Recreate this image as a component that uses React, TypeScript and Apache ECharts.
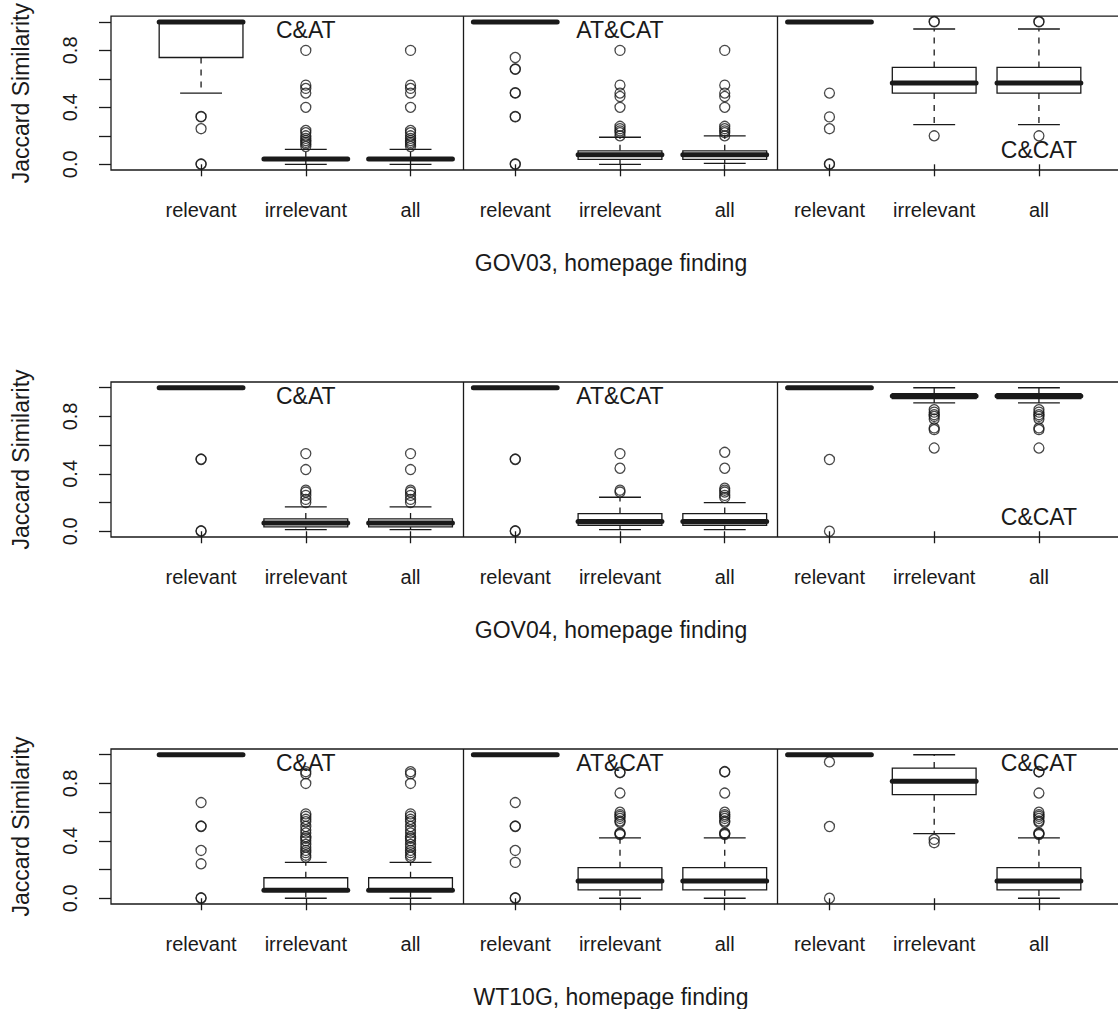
import { useEffect, useRef } from 'react';
import * as echarts from 'echarts';

const INK = '#1a1a1a';
const FONT = '"Liberation Sans", Arial, Helvetica, sans-serif';

const categories = ['relevant', 'irrelevant', 'all', 'relevant', 'irrelevant', 'all', 'relevant', 'irrelevant', 'all'];
const panelTitles = ['GOV03, homepage finding', 'GOV04, homepage finding', 'WT10G, homepage finding'];
const yAxisTitle = 'Jaccard Similarity';
const groupNames = ['C&AT', 'AT&CAT', 'C&CAT'];
const groupLabelX = [2, 5, 9];
const groupLabelYGov03 = [0.94, 0.94, 0.1];
const groupLabelYGov04 = [0.94, 0.94, 0.1];
const groupLabelYWt10g = [0.94, 0.94, 0.94];
const yTicks = [0, 0.2, 0.4, 0.6, 0.8, 1.0];
const yTickLabels = [0, 0.4, 0.8];
const separators = [3.5, 6.5];

// [lower whisker, Q1, median, Q3, upper whisker] per category
const gov03Stats = [
  [0.5, 0.75, 1, 1, 1],
  [0, 0.028, 0.037, 0.045, 0.105],
  [0, 0.028, 0.037, 0.045, 0.105],
  [1, 1, 1, 1, 1],
  [0, 0.035, 0.067, 0.095, 0.19],
  [0.007, 0.035, 0.067, 0.095, 0.2],
  [1, 1, 1, 1, 1],
  [0.278, 0.5, 0.571, 0.68, 0.95],
  [0.278, 0.5, 0.571, 0.68, 0.95],
];
const gov03Outliers = [
  [0.333, 0.336, 0.25, 0, 0.003],
  [0.8, 0.556, 0.533, 0.5, 0.4, 0.238, 0.222, 0.2, 0.182, 0.167, 0.154, 0.143, 0.125],
  [0.8, 0.556, 0.533, 0.5, 0.4, 0.238, 0.222, 0.2, 0.182, 0.167, 0.154, 0.143, 0.125],
  [0.75, 0.667, 0.67, 0.5, 0.503, 0.333, 0.336, 0, 0.003],
  [0.8, 0.556, 0.5, 0.476, 0.4, 0.267, 0.25, 0.235, 0.222, 0.2],
  [0.8, 0.556, 0.5, 0.476, 0.4, 0.267, 0.25, 0.235, 0.222, 0.2],
  [0.5, 0.333, 0.25, 0, 0.003],
  [1.0, 1.003, 0.2],
  [1.0, 1.003, 0.2],
];

const gov04Stats = [
  [1, 1, 1, 1, 1],
  [0.012, 0.031, 0.058, 0.086, 0.17],
  [0.012, 0.031, 0.058, 0.086, 0.17],
  [1, 1, 1, 1, 1],
  [0.012, 0.042, 0.068, 0.123, 0.237],
  [0.012, 0.042, 0.068, 0.123, 0.2],
  [1, 1, 1, 1, 1],
  [0.894, 0.925, 0.942, 0.958, 1.0],
  [0.894, 0.925, 0.942, 0.958, 1.0],
];
const gov04Outliers = [
  [0.5, 0.503, 0, 0.003],
  [0.541, 0.43, 0.286, 0.273, 0.25, 0.222, 0.2],
  [0.541, 0.43, 0.286, 0.273, 0.25, 0.222, 0.2],
  [0.5, 0.503, 0, 0.003],
  [0.541, 0.439, 0.286, 0.273],
  [0.55, 0.439, 0.3, 0.286, 0.273, 0.25, 0.235],
  [0.5, 0],
  [0.847, 0.83, 0.812, 0.8, 0.782, 0.72, 0.708, 0.58],
  [0.847, 0.83, 0.812, 0.8, 0.782, 0.72, 0.708, 0.58],
];

const wt10gStats = [
  [1, 1, 1, 1, 1],
  [0, 0.048, 0.056, 0.143, 0.25],
  [0, 0.048, 0.056, 0.143, 0.25],
  [1, 1, 1, 1, 1],
  [0, 0.058, 0.12, 0.213, 0.421],
  [0, 0.058, 0.12, 0.213, 0.421],
  [1, 1, 1, 1, 1],
  [0.451, 0.722, 0.815, 0.907, 1.0],
  [0, 0.058, 0.12, 0.213, 0.421],
];
const wt10gOutliers = [
  [0.667, 0.5, 0.503, 0.333, 0.24, 0, 0.003],
  [0.882, 0.867, 0.8, 0.588, 0.571, 0.55, 0.533, 0.5, 0.476, 0.455, 0.429, 0.417, 0.4, 0.375, 0.357, 0.333, 0.318, 0.3, 0.286],
  [0.882, 0.867, 0.8, 0.588, 0.571, 0.55, 0.533, 0.5, 0.476, 0.455, 0.429, 0.417, 0.4, 0.375, 0.357, 0.333, 0.318, 0.3, 0.286],
  [0.667, 0.5, 0.503, 0.333, 0.25, 0, 0.003],
  [0.875, 0.878, 0.733, 0.6, 0.583, 0.571, 0.556, 0.538, 0.529, 0.455, 0.45, 0.444],
  [0.88, 0.883, 0.733, 0.6, 0.583, 0.571, 0.556, 0.538, 0.529, 0.455, 0.45, 0.444],
  [0.95, 0.5, 0],
  [0.41, 0.387],
  [0.88, 0.883, 0.733, 0.6, 0.583, 0.571, 0.556, 0.538, 0.529, 0.455, 0.45, 0.444],
];

const panels = [
  { title: panelTitles[0], stats: gov03Stats, outliers: gov03Outliers, labelY: groupLabelYGov03 },
  { title: panelTitles[1], stats: gov04Stats, outliers: gov04Outliers, labelY: groupLabelYGov04 },
  { title: panelTitles[2], stats: wt10gStats, outliers: wt10gOutliers, labelY: groupLabelYWt10g },
];

const CHART_W = 1140;
const CHART_H = 1009;
const GRID_TOPS = [15, 382, 749];
const GRID_H = 155;
const GRID_LEFT = 111;
const GRID_W = 1018;
const X_MIN = 0.14;
const X_MAX = 9.86;
const Y_MIN = -0.04;
const Y_MAX = 1.04;
const LW = 1.3;
const TICK_FONT = 20;
const LABEL_FONT = 23;

function renderBox(_params: any, api: any) {
  const x = api.value(0);
  const lo = api.value(1);
  const q1 = api.value(2);
  const md = api.value(3);
  const q3 = api.value(4);
  const hi = api.value(5);
  const c = (xv: number, yv: number) => api.coord([xv, yv]);
  const line = (x1: number, y1: number, x2: number, y2: number, style: any) => {
    const a = c(x1, y1);
    const b = c(x2, y2);
    return { type: 'line', shape: { x1: a[0], y1: a[1], x2: b[0], y2: b[1] }, style };
  };
  const thin = { stroke: INK, lineWidth: LW, fill: null };
  const dashed = { stroke: INK, lineWidth: LW, lineDash: [6, 6], fill: null };
  const children: any[] = [];
  if (hi > q3) children.push(line(x, q3, x, hi, dashed));
  if (lo < q1) children.push(line(x, q1, x, lo, dashed));
  children.push(line(x - 0.2, hi, x + 0.2, hi, thin));
  children.push(line(x - 0.2, lo, x + 0.2, lo, thin));
  const tl = c(x - 0.4, q3);
  const br = c(x + 0.4, q1);
  children.push({
    type: 'rect',
    shape: { x: tl[0], y: tl[1], width: br[0] - tl[0], height: br[1] - tl[1] },
    style: { fill: '#fff', stroke: INK, lineWidth: LW },
  });
  children.push(line(x - 0.4, md, x + 0.4, md, { stroke: INK, lineWidth: 5, lineCap: 'round', fill: null }));
  return { type: 'group', children };
}

function renderGroupLabel(params: any, api: any) {
  const p = api.coord([api.value(0), api.value(1)]);
  return {
    type: 'text',
    x: p[0],
    y: p[1],
    style: {
      text: groupNames[params.dataIndex],
      fill: INK,
      fontSize: LABEL_FONT,
      fontFamily: FONT,
      align: 'center',
      verticalAlign: 'middle',
    },
  };
}

export default function App() {
  const ref = useRef<HTMLDivElement>(null);
  useEffect(() => {
    document.body.style.margin = '0';
    document.body.style.overflow = 'hidden';
    document.documentElement.style.overflow = 'hidden';
    const chart = echarts.init(ref.current!, null, { renderer: 'svg' });
    const tickText = { color: INK, fontFamily: FONT, fontSize: TICK_FONT };
    const nameText = { color: INK, fontFamily: FONT, fontSize: LABEL_FONT };
    const grid = GRID_TOPS.map((t) => ({
      left: GRID_LEFT,
      top: t,
      width: GRID_W,
      height: GRID_H,
      show: true,
      borderColor: INK,
      borderWidth: LW,
      backgroundColor: 'transparent',
    }));
    const catIdx = categories.map((_, i) => i + 1);
    const xAxis = panels.map((p, i) => ({
      type: 'value',
      gridIndex: i,
      min: X_MIN,
      max: X_MAX,
      axisLine: { show: false },
      splitLine: { show: false },
      axisTick: { show: true, length: 12, customValues: catIdx, lineStyle: { color: INK, width: LW } },
      axisLabel: {
        show: true,
        customValues: catIdx,
        formatter: (v: number) => categories[Math.round(v) - 1] ?? '',
        margin: 30,
        ...tickText,
      },
      name: p.title,
      nameLocation: 'middle',
      nameGap: 81,
      nameTextStyle: { ...nameText, padding: [0, 18, 0, 0] },
    }));
    const yAxis = panels.map((_, i) => ({
      type: 'value',
      gridIndex: i,
      min: Y_MIN,
      max: Y_MAX,
      axisLine: { show: false },
      splitLine: { show: false },
      axisTick: { show: true, length: 12, customValues: yTicks, lineStyle: { color: INK, width: LW } },
      axisLabel: {
        show: true,
        customValues: yTickLabels,
        formatter: (v: number) => v.toFixed(1),
        rotate: 90,
        margin: 31,
        ...tickText,
      },
      name: yAxisTitle,
      nameLocation: 'middle',
      nameRotate: 90,
      nameGap: 79,
      nameTextStyle: { ...nameText },
    }));
    const series: any[] = [];
    panels.forEach((p, i) => {
      series.push({
        type: 'custom',
        xAxisIndex: i,
        yAxisIndex: i,
        renderItem: renderBox,
        encode: { x: 0, y: [1, 2, 3, 4, 5] },
        data: p.stats.map((s, k) => [k + 1, ...s]),
        silent: true,
        markLine: {
          silent: true,
          symbol: ['none', 'none'],
          label: { show: false },
          lineStyle: { color: INK, type: 'solid', width: LW },
          data: separators.map((x) => ({ xAxis: x })),
        },
      });
      const pts: number[][] = [];
      p.outliers.forEach((vals, k) => vals.forEach((v) => pts.push([k + 1, v])));
      series.push({
        type: 'scatter',
        xAxisIndex: i,
        yAxisIndex: i,
        symbol: 'circle',
        symbolSize: 10,
        itemStyle: { color: 'rgba(0,0,0,0)', borderColor: INK, borderWidth: LW },
        data: pts,
        silent: true,
        z: 3,
      });
      series.push({
        type: 'custom',
        xAxisIndex: i,
        yAxisIndex: i,
        renderItem: renderGroupLabel,
        encode: { x: 0, y: 1 },
        data: groupLabelX.map((x, k) => [x, p.labelY[k]]),
        silent: true,
        z: 4,
      });
    });
    chart.setOption({
      animation: false,
      backgroundColor: '#fff',
      grid,
      xAxis,
      yAxis,
      series,
    });
    return () => chart.dispose();
  }, []);
  return <div ref={ref} style={{ width: CHART_W, height: CHART_H }} />;
}
